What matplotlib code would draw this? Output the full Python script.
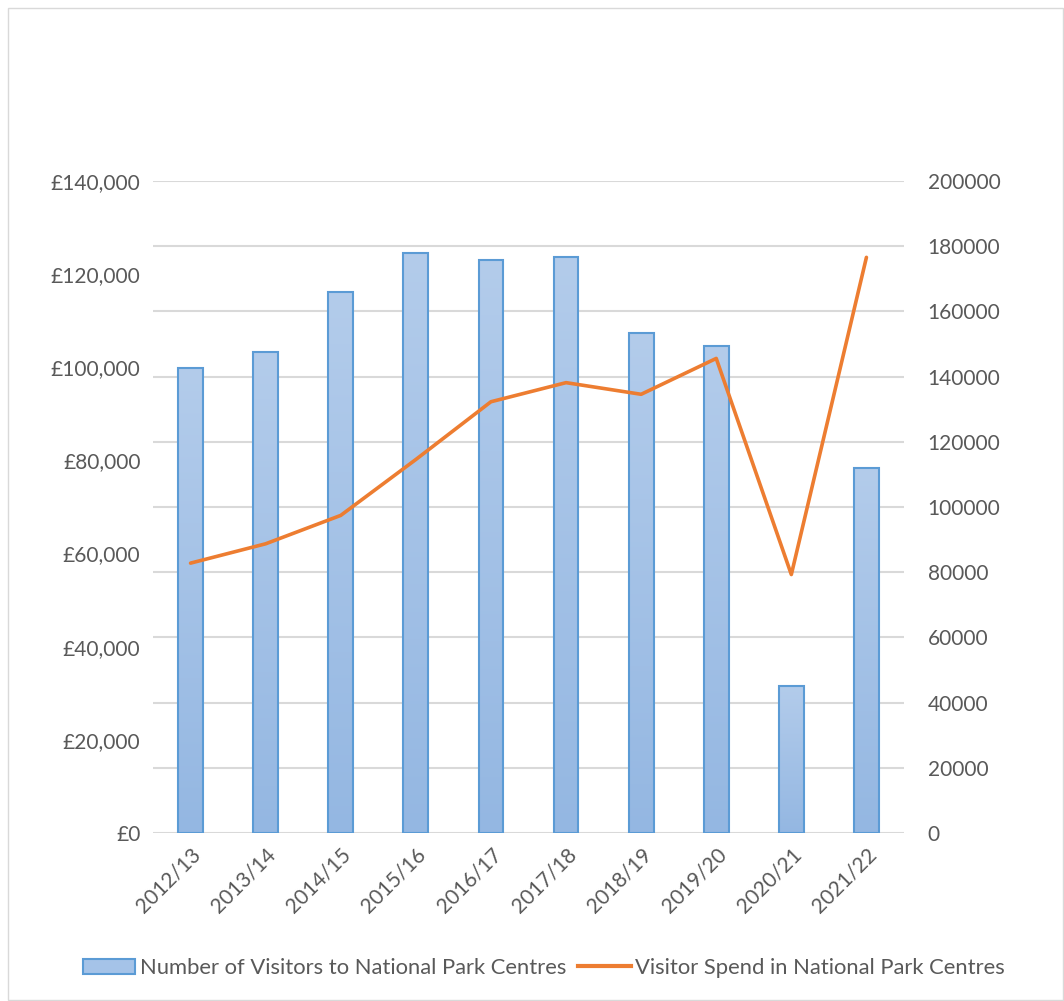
import numpy as np
import matplotlib
matplotlib.use('Agg')
import matplotlib.pyplot as plt
from matplotlib.patches import Rectangle, Patch
from matplotlib.lines import Line2D
from matplotlib.ticker import FuncFormatter, MultipleLocator

plt.rcParams['font.family'] = ['Lato', 'DejaVu Sans']

# data
years = ['2012/13', '2013/14', '2014/15', '2015/16', '2016/17',
         '2017/18', '2018/19', '2019/20', '2020/21', '2021/22']
visitors = [142600, 147400, 166000, 177800, 175800,
            176800, 153500, 149400, 45200, 111900]
spend = [57950, 62100, 68200, 80200, 92600,
         96700, 94200, 101900, 55500, 123600]

grey_txt = '#595959'
grid_col = '#d9d9d9'
bar_edge = '#5b9bd5'
line_col = '#ed7d31'

fig = plt.figure(figsize=(10.64, 10.01), dpi=100)
fig.patches.append(Rectangle((8 / 1064, 1 / 1001), 1055 / 1064, 992 / 1001,
                             transform=fig.transFigure, fill=False,
                             edgecolor='#d9d9d9', linewidth=1))

ax = fig.add_axes([0.1438, 0.1678, 0.7058, 0.6514])
ax2 = ax.twinx()

x = np.arange(len(years))

# bars (right axis) with a soft vertical gradient
grad = np.linspace(0, 1, 256).reshape(-1, 1)
cmap = matplotlib.colors.LinearSegmentedColormap.from_list('g', ['#94b7e2', '#b3cceb'])
w = 0.33
for xi, v in zip(x, visitors):
    r = Rectangle((xi - w / 2, 0), w, v, facecolor='none', edgecolor=bar_edge,
                  linewidth=1.5, zorder=3)
    ax2.add_patch(r)
    im = ax2.imshow(grad, extent=[xi - w / 2, xi + w / 2, 0, v], origin='lower',
                    aspect='auto', cmap=cmap, zorder=2)
    im.set_clip_path(r)

ax2.set_ylim(0, 200000)
ax2.yaxis.set_major_locator(MultipleLocator(20000))
ax2.grid(axis='y', color=grid_col, linewidth=1.5)
ax2.set_axisbelow(True)

# line (left axis)
ax.plot(x, spend, color=line_col, linewidth=2.6, solid_joinstyle='round',
        solid_capstyle='round', zorder=5)
ax.set_ylim(0, 140000)
ax.yaxis.set_major_locator(MultipleLocator(20000))
ax.yaxis.set_major_formatter(FuncFormatter(lambda v, p: '£{:,.0f}'.format(v)))
ax.set_xlim(-0.5, len(years) - 0.5)
ax.set_xticks(x)
ax.set_xticklabels(years, rotation=45, ha='right', va='top', rotation_mode='anchor')

ax.set_zorder(ax2.get_zorder() + 1)
ax.patch.set_visible(False)

for a in (ax, ax2):
    for s in a.spines.values():
        s.set_visible(False)
    a.tick_params(length=0, labelsize=15, colors=grey_txt)
ax.tick_params(axis='y', pad=9)
ax.tick_params(axis='x', pad=8)
ax2.tick_params(axis='y', pad=17)
ax2.set_xlim(-0.5, len(years) - 0.5)

handles = [Patch(facecolor='#a5c3e8', edgecolor=bar_edge, linewidth=1.5),
           Line2D([0], [0], color=line_col, linewidth=3)]
labels = ['Number of Visitors to National Park Centres',
          'Visitor Spend in National Park Centres']
fig.legend(handles, labels, loc='center', bbox_to_anchor=(0.511, 0.033), ncol=2,
           frameon=False, fontsize=15.8, labelcolor=grey_txt, handlelength=2.4,
           handletextpad=0.2, columnspacing=0.55)

fig.savefig('out.png', dpi=100)
